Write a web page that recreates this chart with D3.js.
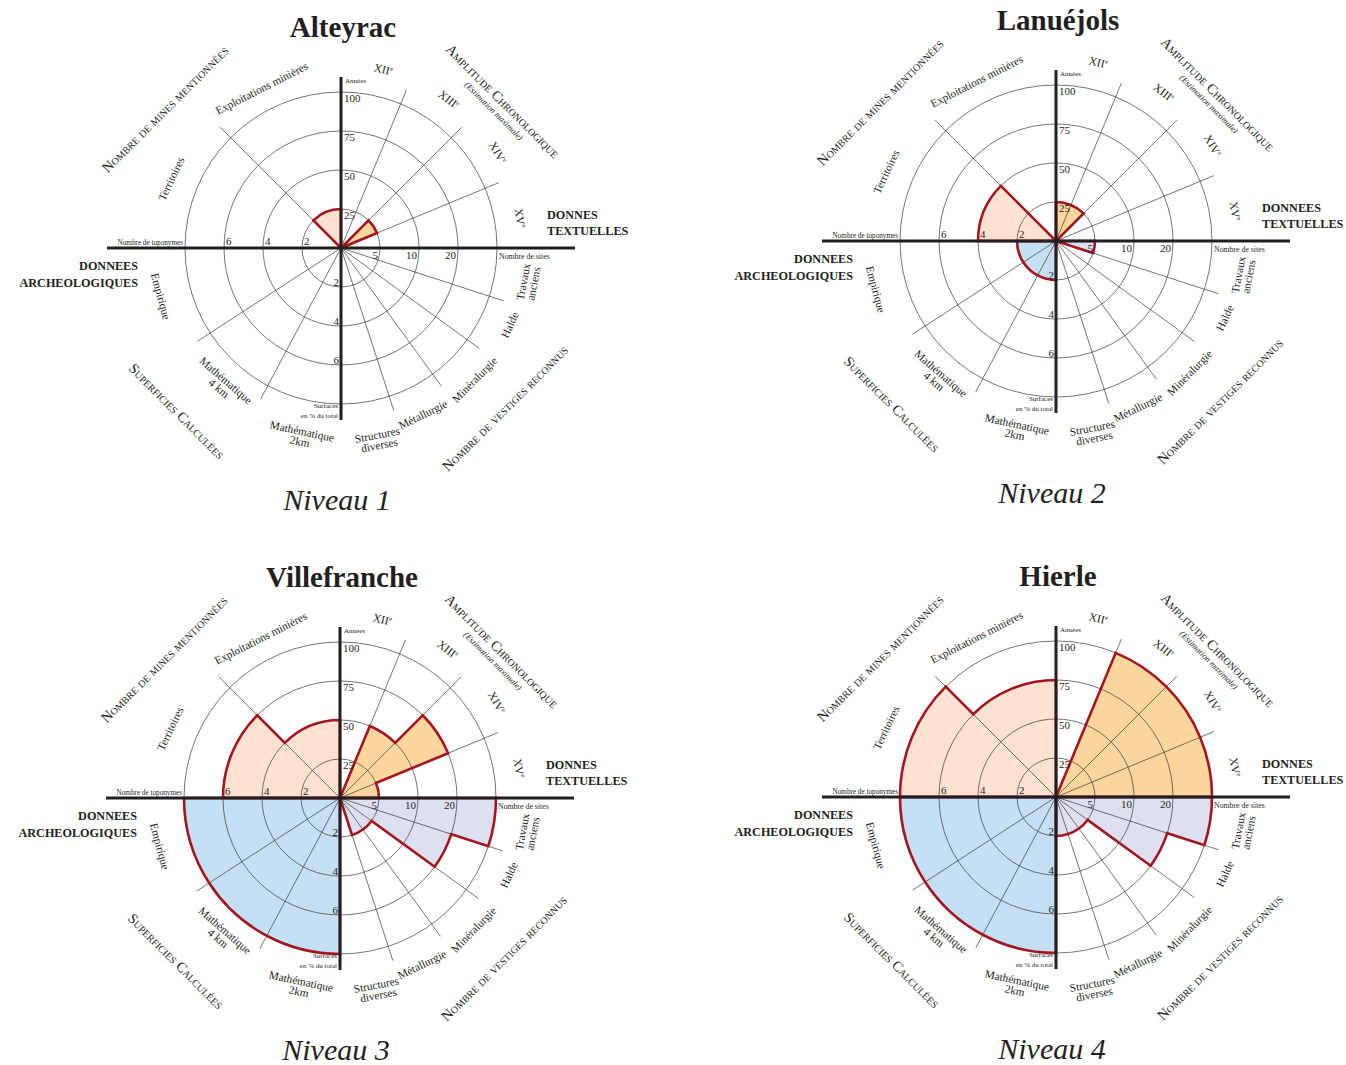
<!DOCTYPE html>
<html>
<head>
<meta charset="utf-8">
<script src="https://cdn.jsdelivr.net/npm/d3@7"></script>
<style>
  body { margin: 0; background: #fff; }
  svg { display: block; }
</style>
</head>
<body>
<div id="chart"></div>
<script>
// --- data ---
const sites = ["Alteyrac", "Lanuéjols", "Villefranche", "Hierle"];
const niveaux = ["Niveau 1", "Niveau 2", "Niveau 3", "Niveau 4"];
const textuellesLabels = [["DONNES", "TEXTUELLES"], ["DONNEES", "TEXTUELLES"], ["DONNES", "TEXTUELLES"], ["DONNES", "TEXTUELLES"]];
const archeoLabels = ["DONNEES", "ARCHEOLOGIQUES"];

// top-left quadrant (clockwise from the left axis)
const minesCategories = ["Territoires", "Exploitations minières"];
const minesValues = [[0, 2], [4, 0], [6, 4], [8, 6]];

// top-right quadrant
const siecleCategories = ["XII", "XIII", "XIV", "XV"];
const amplitudeValues = [[0, 0, 25, 0], [25, 25, 0, 0], [0, 50, 75, 25], [0, 100, 100, 100]];

// bottom-right quadrant
const vestigesCategories = ["Travaux\nanciens", "Halde", "Minéralurgie", "Métallurgie", "Structures\ndiverses"];
const vestigesValues = [[0, 0, 0, 0, 0], [5, 0, 0, 0, 0], [40, 20, 5, 5, 0], [40, 20, 5, 5, 5]];

// bottom-left quadrant (clockwise from the bottom axis)
const superficiesCategories = ["Mathématique\n2km", "Mathématique\n4 km", "Empirique"];
const superficiesValues = [[0, 0, 0], [2, 2, 2], [8, 8, 8], [8, 8, 8]];

const ticksAnnees = [25, 50, 75, 100];
const ticksToponymes = [2, 4, 6];
const ticksSites = [5, 10, 20];
const ticksSurfaces = [2, 4, 6];

// --- layout ---
const W = 1346, H = 1065;
const centres = [[341, 248], [1056, 241], [340, 798], [1056, 797]];
const rMax = 156;
const spokeLen = 171;
const FONT = "'Liberation Serif', 'Times New Roman', serif";
const INK = "#231f20";
const GRID = "#3a3a3a";
const OUTLINE = "#a3151f";
const fills = { mines: "#fde2d2", amplitude: "#fcd69c", vestiges: "#dce0f0", superficies: "#c5e0f4" };

// angles: degrees clockwise from 12 o'clock
const minesBounds = [[-90, -45], [-45, 0]];
const siecleBounds = [[0, 22.5], [22.5, 45], [45, 67.5], [67.5, 90]];
const vestigesBounds = [[90, 108], [108, 126], [126, 144], [144, 162], [162, 180]];
const superficiesBounds = [[180, 208], [208, 237], [237, 270]];

const rToponymes = d3.scaleLinear().domain([0, 8]).range([0, rMax]);
const rAnnees = d3.scaleLinear().domain([0, 100]).range([0, rMax]);
const rSites = d3.scaleLinear().domain([0, 5, 10, 20, 40]).range([0, rMax / 4, rMax / 2, rMax * 3 / 4, rMax]);
const rSurfaces = d3.scaleLinear().domain([0, 8]).range([0, rMax]);

// label placement: [theta, radius, rotation]
const minesLabelPos = [[-67.8, 183, -64.5], [-26.4, 178, -27]];
const siecleLabelPos = [[13.3, 183, 13], [36, 183, 38], [58.7, 183, 60], [80.5, 181, 80]];
const vestigesLabelPos = [[100.5, 191, -79.5], [114.5, 186, -65.5], [134.6, 188, -45.4], [153.8, 186, -26], [169, 196, -11]];
const superficiesLabelPos = [[192, 193, 12], [221, 181, 41], [255, 187, 75]];

const toRad = (deg) => ((deg - 90) * Math.PI) / 180;
const polar = (cx, cy, theta, r) => [cx + r * Math.cos(toRad(theta)), cy + r * Math.sin(toRad(theta))];

const svg = d3.select("#chart").append("svg").attr("width", W).attr("height", H).attr("viewBox", `0 0 ${W} ${H}`);

function quadrantPath(cx, cy, bounds, radii) {
  const p = d3.path();
  p.moveTo(cx, cy);
  bounds.forEach(([t0, t1], i) => {
    const r = radii[i];
    const [x0, y0] = polar(cx, cy, t0, r);
    p.lineTo(x0, y0);
    if (r > 0) p.arc(cx, cy, r, toRad(t0), toRad(t1), false);
  });
  p.closePath();
  return p.toString();
}

function drawLabel(g, cx, cy, text, [theta, R, rot], size) {
  const [x, y] = polar(cx, cy, theta, R);
  const lines = text.split("\n");
  const t = g
    .append("text")
    .attr("transform", `translate(${x},${y}) rotate(${rot})`)
    .attr("text-anchor", "middle")
    .attr("font-family", FONT)
    .attr("font-size", size)
    .attr("fill", INK);
  lines.forEach((line, i) => {
    t.append("tspan")
      .attr("x", 0)
      .attr("y", (i - (lines.length - 1) / 2) * 10.5 + 3.5)
      .text(line);
  });
  return t;
}

function drawChart(idx) {
  const [cx, cy] = centres[idx];
  const g = svg.append("g");

  const quadrants = [
    { key: "mines", bounds: minesBounds, radii: minesValues[idx].map(rToponymes) },
    { key: "amplitude", bounds: siecleBounds, radii: amplitudeValues[idx].map(rAnnees) },
    { key: "vestiges", bounds: vestigesBounds, radii: vestigesValues[idx].map(rSites) },
    { key: "superficies", bounds: superficiesBounds, radii: superficiesValues[idx].map(rSurfaces) },
  ].filter((q) => d3.max(q.radii) > 0);

  // fills
  g.append("g")
    .selectAll("path")
    .data(quadrants)
    .join("path")
    .attr("d", (d) => quadrantPath(cx, cy, d.bounds, d.radii))
    .attr("fill", (d) => fills[d.key])
    .attr("stroke", "none");

  // grid circles
  g.append("g")
    .selectAll("circle")
    .data(ticksAnnees)
    .join("circle")
    .attr("cx", cx)
    .attr("cy", cy)
    .attr("r", (d) => rAnnees(d))
    .attr("fill", "none")
    .attr("stroke", GRID)
    .attr("stroke-width", 0.7);

  // spokes
  const spokes = [-45, 22.5, 45, 67.5, 108, 126, 144, 162, 208, 237];
  g.append("g")
    .selectAll("line")
    .data(spokes)
    .join("line")
    .attr("x1", cx)
    .attr("y1", cy)
    .attr("x2", (d) => polar(cx, cy, d, spokeLen)[0])
    .attr("y2", (d) => polar(cx, cy, d, spokeLen)[1])
    .attr("stroke", GRID)
    .attr("stroke-width", 0.7);

  // outlines
  g.append("g")
    .selectAll("path")
    .data(quadrants)
    .join("path")
    .attr("d", (d) => quadrantPath(cx, cy, d.bounds, d.radii))
    .attr("fill", "none")
    .attr("stroke", OUTLINE)
    .attr("stroke-width", 2.6)
    .attr("stroke-linejoin", "miter");

  // main axes
  g.append("line").attr("x1", cx - 234).attr("x2", cx + 234).attr("y1", cy).attr("y2", cy)
    .attr("stroke", INK).attr("stroke-width", 3);
  g.append("line").attr("x1", cx).attr("x2", cx).attr("y1", cy - 171).attr("y2", cy + 172)
    .attr("stroke", INK).attr("stroke-width", 3);

  const small = (x, y, txt, size, anchor) =>
    g.append("text").attr("x", x).attr("y", y).attr("text-anchor", anchor || "start")
      .attr("font-family", FONT).attr("font-size", size).attr("fill", INK).text(txt);

  // tick labels
  ticksAnnees.forEach((v) => small(cx + 3, cy - rAnnees(v) + 10, v, 11));
  small(cx + 4, cy - 165, "Années", 7);
  ticksToponymes.forEach((v) => small(cx - rToponymes(v) + 2, cy - 3, v, 11));
  small(cx - 158, cy - 3, "Nombre de toponymes", 7.2, "end");
  ticksSites.forEach((v) => small(cx + rSites(v) - 2, cy + 11, v, 11, "end"));
  small(cx + 158, cy + 11, "Nombre de sites", 7.8);
  ticksSurfaces.forEach((v) => small(cx - 2, cy + rSurfaces(v) - 1, v, 11, "end"));
  small(cx - 3, cy + 160, "Surfaces", 7, "end");
  small(cx - 3, cy + 170, "en % du total", 7, "end");

  // sector labels
  minesCategories.forEach((c, i) => drawLabel(g, cx, cy, c, minesLabelPos[i], 11.3));
  vestigesCategories.forEach((c, i) => drawLabel(g, cx, cy, c, vestigesLabelPos[i], 11.3));
  superficiesCategories.forEach((c, i) => drawLabel(g, cx, cy, c, superficiesLabelPos[i], 11.3));
  siecleCategories.forEach((c, i) => {
    const t = drawLabel(g, cx, cy, c, siecleLabelPos[i], 11.5);
    t.append("tspan").attr("dy", -4.5).attr("font-size", 6.5).text("e");
  });

  // quadrant titles
  const quadTitle = (dx, dy, rot, txt, size, opts = {}) =>
    g.append("text")
      .attr("transform", `translate(${cx + dx},${cy + dy}) rotate(${rot})`)
      .attr("text-anchor", "middle")
      .attr("dominant-baseline", "central")
      .attr("font-family", FONT)
      .attr("font-size", size)
      .attr("font-style", opts.italic ? "italic" : "normal")
      .style("font-variant", opts.italic ? "normal" : "small-caps")
      .attr("fill", INK)
      .text(txt);
  quadTitle(-176, -139, -45, "Nombre de mines mentionnées", 14.3);
  quadTitle(162, -147, 45, "Amplitude Chronologique", 14.3);
  quadTitle(153, -137, 45, "(Estimation maximale)", 8.6, { italic: true });
  quadTitle(-164, 163, 45, "Superficies Calculées", 14.3);
  quadTitle(164, 160, -45, "Nombre de vestiges reconnus", 14.3);

  // side headings
  textuellesLabels[idx].forEach((t, i) =>
    g.append("text").attr("x", cx + 206).attr("y", cy - 29 + i * 16)
      .attr("font-family", FONT).attr("font-size", 12.2).attr("font-weight", "bold").attr("fill", INK).text(t));
  archeoLabels.forEach((t, i) =>
    g.append("text").attr("x", cx - 203).attr("y", cy + 22 + i * 17).attr("text-anchor", "end")
      .attr("font-family", FONT).attr("font-size", 12.2).attr("font-weight", "bold").attr("fill", INK).text(t));

  // title and level
  g.append("text").attr("x", cx + 2).attr("y", cy - 211).attr("text-anchor", "middle")
    .attr("font-family", FONT).attr("font-size", 29).attr("font-weight", "bold").attr("fill", INK).text(sites[idx]);
  g.append("text").attr("x", cx - 4).attr("y", cy + 262).attr("text-anchor", "middle")
    .attr("font-family", FONT).attr("font-size", 30).attr("font-style", "italic").attr("fill", INK).text(niveaux[idx]);
}

sites.forEach((s, i) => drawChart(i));
</script>
</body>
</html>
